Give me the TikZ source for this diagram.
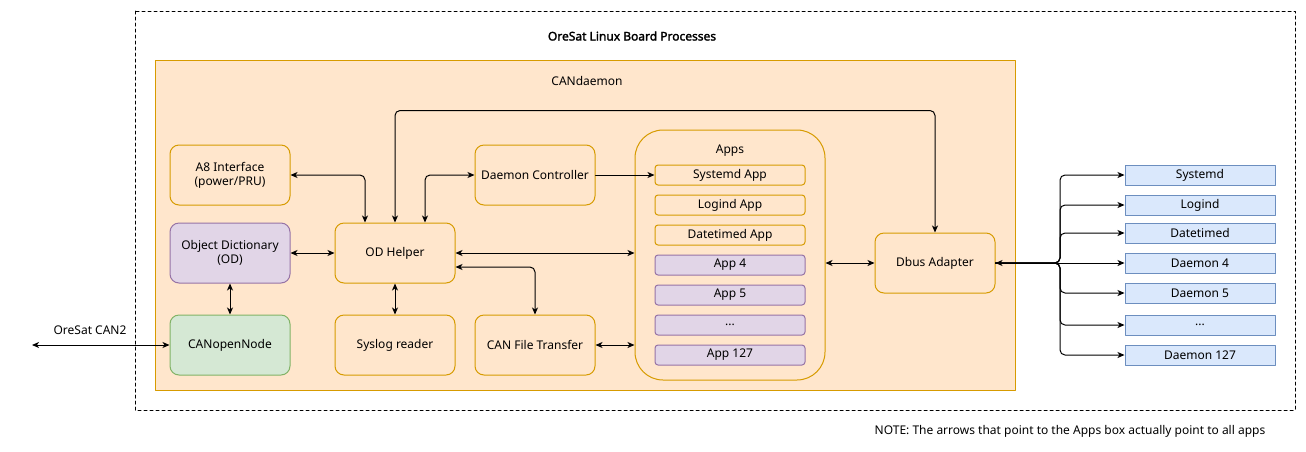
\documentclass[tikz,border=0pt]{standalone}
\usepackage{fontspec}
\setmainfont{Noto Sans}
\newfontfamily\titlefont{Noto Sans}[FakeBold=2]
\usetikzlibrary{arrows.meta}
\usetikzlibrary{positioning}
\definecolor{orfill}{HTML}{FFE6CC}
\definecolor{orline}{HTML}{D79B00}
\definecolor{pufill}{HTML}{E1D5E7}
\definecolor{puline}{HTML}{9673A6}
\definecolor{grfill}{HTML}{D5E8D4}
\definecolor{grline}{HTML}{82B366}
\definecolor{blfill}{HTML}{DAE8FC}
\definecolor{blline}{HTML}{6C8EBF}
\begin{document}
\begin{tikzpicture}[x=1pt,y=-1pt,line width=1pt,line cap=round,line join=round,
  every node/.style={font=\fontsize{12pt}{14pt}\selectfont,inner sep=0pt,align=center},
  proc/.style={draw=orline,fill=orfill,rounded corners=9pt,minimum width=120pt,minimum height=60pt},
  odict/.style={proc,draw=puline,fill=pufill},
  cannode/.style={proc,draw=grline,fill=grfill},
  appok/.style={draw=orline,fill=orfill,rounded corners=3pt,minimum width=150pt,minimum height=20pt},
  appno/.style={appok,draw=puline,fill=pufill},
  dmn/.style={draw=blline,fill=blfill,minimum width=150pt,minimum height=20pt},
  link/.style={draw=black,line width=1pt,rounded corners=5pt},
  tip/.tip={Stealth[length=7pt,width=6pt,inset=2pt]}]
\useasboundingbox (0,0) rectangle (1306,451);

% frames
\draw[dash pattern=on 3pt off 3pt] (135,11) rectangle (1295,410);
\node[font=\fontsize{12pt}{14pt}\titlefont] (title) at (632,36) {OreSat Linux Board Processes};
\draw[draw=orline,fill=orfill] (155,60) rectangle (1015,390);
\node (cand) at (587,81) {CANdaemon};

% CANdaemon blocks
\node[proc] (a8) at (230,175) {A8 Interface\\(power/PRU)};
\node[odict] (od) at (230,253) {Object Dictionary\\(OD)};
\node[cannode] (cnode) at (230,345) {CANopenNode};
\node[proc] (odh) at (395,253) {OD Helper};
\node[proc] (slog) at (395,345) {Syslog reader};
\node[proc] (dctl) at (535,175) {Daemon Controller};
\node[proc] (cft) at (535,345) {CAN File Transfer};
\node[proc] (dbus) at (935,263) {Dbus Adapter};

% apps
\node[draw=orline,fill=orfill,rounded corners=28pt,minimum width=190pt,minimum height=250pt] (apps) at (730,255) {};
\node (appsl) at (730,151) {Apps};
\node[appok] (sysapp) at (730,175) {Systemd App};
\node[appok] (logapp) at (730,205) {Logind App};
\node[appok] (dtapp) at (730,235) {Datetimed App};
\node[appno] (app4) at (730,265) {App 4};
\node[appno] (app5) at (730,295) {App 5};
\node[appno] (appx) at (730,325) {...};
\node[appno] (app127) at (730,355) {App 127};

% daemons
\node[dmn] (sysd) at (1200,175) {Systemd};
\node[dmn] (logd) at (1200,205) {Logind};
\node[dmn] (dtd) at (1200,233) {Datetimed};
\node[dmn] (d4) at (1200,263) {Daemon 4};
\node[dmn] (d5) at (1200,293) {Daemon 5};
\node[dmn] (dx) at (1200,325) {...};
\node[dmn] (d127) at (1200,355) {Daemon 127};

% connectors
\draw[link,tip-tip] (a8.east) -| ([xshift=-30pt]odh.north);
\draw[link,tip-tip] (odh.north) -- ++(0,-112) -| (dbus.north);
\draw[link,tip-tip] ([xshift=30pt]odh.north) |- (dctl.west);
\draw[link,-tip] (dctl.east) -- (sysapp.west);
\draw[link,tip-tip] (od.east) -- (odh.west);
\draw[link,tip-tip] (od.south) -- (cnode.north);
\draw[link,tip-tip] (odh.south) -- (slog.north);
\draw[link,tip-tip] (odh.east) -- (odh.east -| apps.west);
\draw[link,tip-tip] ([yshift=-14pt]odh.east) -| (cft.north);
\draw[link,tip-tip] (cft.east) -- (cft.east -| apps.west);
\draw[link,tip-tip] (dbus.west) -- (dbus.west -| apps.east);

\coordinate (bus) at (1060,263);
\draw[link,tip-tip] (dbus.east) -- (d4.west);
\draw[link,-tip] (dbus.east) -- (bus) |- (sysd.west);
\draw[link,-tip] (dbus.east) -- (bus) |- (logd.west);
\draw[link,-tip] (dbus.east) -- (bus) |- (dtd.west);
\draw[link,-tip] (dbus.east) -- (bus) |- (d5.west);
\draw[link,-tip] (dbus.east) -- (bus) |- (dx.west);
\draw[link,-tip] (dbus.east) -- (bus) |- (d127.west);

% CAN bus
\coordinate (can2) at (32,345);
\node (can2l) at (90,330) {OreSat CAN2};
\draw[link,tip-tip] (can2) -- (cnode.west);

\node (note) at (1070,431) {NOTE: The arrows that point to the Apps box actually point to all apps};
\end{tikzpicture}
\end{document}
